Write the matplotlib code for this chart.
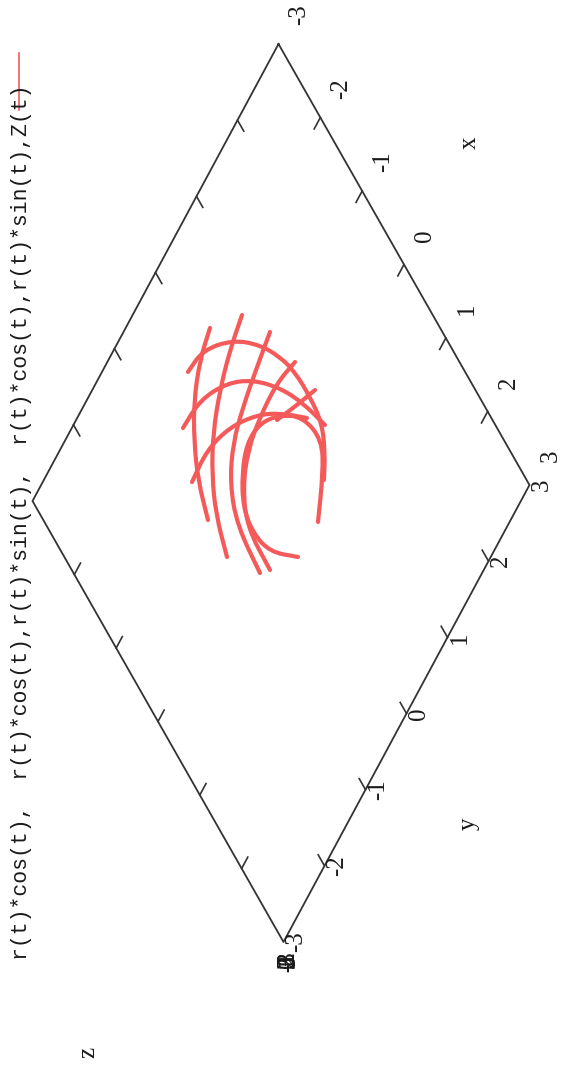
import matplotlib.pyplot as plt
from matplotlib.path import Path
from matplotlib.patches import PathPatch
from matplotlib.transforms import Affine2D

# frame ranges and tick values
box_x = [-3, 3, 3, -3, -3]
box_y = [3, 3, -3, -3, 3]
tick_vals = [-2, -1, 0, 1, 2]
label_vals = [-3, -2, -1, 0, 1, 2, 3]
z_vals = [-3, -2, -1, 0, 1, 2, 3]

title = "r(t)*cos(t),  r(t)*cos(t),r(t)*sin(t),  r(t)*cos(t),r(t)*sin(t),Z(t)"

# curve pieces, (x, y) in axis units
piece_x = [
    [0.646, 0.384, 0.153, -0.232, -0.528, -0.721, -0.749, -0.611, -0.374, -0.079, 0.255, 0.632],
    [-1.943, -1.904, -1.602, -1.237, -0.912, -0.628, -0.279, 0.041, 0.276, 0.442],
    [-1.634, -1.610, -1.391, -1.091, -0.707, -0.325, 0.091],
    [-1.166, -1.194, -1.063, -0.811, -0.541, -0.177],
    [-1.964, -1.875, -1.684, -1.419, -1.106, -0.718],
    [-1.656, -1.572, -1.431, -1.232, -0.967, -0.653, -0.240],
    [-1.200, -1.128, -1.036, -0.920, -0.693, -0.329, 0.271],
    [-0.694, -0.777, -0.761, -0.690, -0.507, -0.193, 0.374],
    [-0.263, -0.385, -0.532],
]
piece_y = [
    [0.243, 0.633, 0.844, 0.774, 0.514, 0.223, -0.066, -0.327, -0.544, -0.602, -0.528, -0.230],
    [-0.286, 0.040, 0.463, 0.750, 0.906, 0.982, 0.992, 0.958, 0.792, 0.597],
    [-0.723, -0.333, 0.102, 0.431, 0.697, 0.868, 0.980],
    [-0.981, -0.587, -0.159, 0.242, 0.528, 0.814],
    [0.272, -0.063, -0.404, -0.674, -0.896, -1.048],
    [0.739, 0.360, -0.028, -0.401, -0.697, -0.919, -1.072],
    [0.956, 0.566, 0.130, -0.232, -0.537, -0.738, -0.789],
    [1.050, 0.695, 0.264, -0.101, -0.410, -0.632, -0.650],
    [1.098, 0.783, 0.445],
]

red = '#f45a5a'
ink = '#333333'


def smooth_path(xs, ys):
    # quadratic segments through the midpoints, traced points as controls
    pts = list(zip(xs, ys))
    mids = [((a[0] + b[0]) / 2, (a[1] + b[1]) / 2) for a, b in zip(pts[:-1], pts[1:])]
    verts = [pts[0], mids[0]]
    codes = [Path.MOVETO, Path.LINETO]
    for p, m in zip(pts[1:-1], mids[1:]):
        verts += [p, m]
        codes += [Path.CURVE3, Path.CURVE3]
    verts.append(pts[-1])
    codes.append(Path.LINETO)
    return Path(verts, codes)


fig = plt.figure(figsize=(5.63, 10.68), dpi=100)
ax = fig.add_axes([0, 0, 1, 1])
ax.set_xlim(0, 563)
ax.set_ylim(1068, 0)
ax.axis('off')

# top view of the box, scaling unconstrained
proj = Affine2D.from_values(41.83, 73.5, 41.0, -76.17, 281, 493) + ax.transData

ax.plot(box_x, box_y, color=ink, lw=1.3, transform=proj)

tl = 0.15
for v in tick_vals:
    ax.plot([v, v], [3, 3 - tl], color=ink, lw=1.2, transform=proj)
    ax.plot([3, 3 - tl], [v, v], color=ink, lw=1.2, transform=proj)
    ax.plot([-3, -3 + tl], [v, v], color=ink, lw=1.2, transform=proj)
    ax.plot([v, v], [-3, -3 + tl], color=ink, lw=1.2, transform=proj)

lab = dict(rotation=90, ha='center', va='center', family='Liberation Serif',
           fontsize=18, color='#1a1a1a', textcoords='offset points')
for v in label_vals:
    ax.annotate(str(v), xy=(v, 3), xycoords=proj, xytext=(15, 21), **lab)
    ax.annotate(str(v), xy=(3, v), xycoords=proj, xytext=(9, 0), **lab)
for v in z_vals:
    ax.annotate(str(v), xy=(3, -3), xycoords=proj, xytext=(3, -14), **lab)

ax.annotate('x', xy=(0, 4.6), xycoords=proj, rotation=90, ha='center', va='center',
            family='Liberation Serif', fontsize=18, color='#1a1a1a')
ax.annotate('y', xy=(4.5, 0), xycoords=proj, rotation=90, ha='center', va='center',
            family='Liberation Serif', fontsize=18, color='#1a1a1a')
ax.text(88, 1052, 'z', rotation=90, ha='center', va='center',
        family='Liberation Serif', fontsize=18, color='#1a1a1a')

for px, py in zip(piece_x, piece_y):
    ax.add_patch(PathPatch(smooth_path(px, py), facecolor='none', edgecolor=red,
                           lw=3, capstyle='round', joinstyle='round', transform=proj))

ax.text(22, 522, title, rotation=90, ha='center', va='center',
        family='Liberation Mono', fontsize=15.5, color='#1a1a1a')
ax.plot([19, 19], [53, 110], color=red, lw=1.2)

fig.savefig('out.png', dpi=100)
